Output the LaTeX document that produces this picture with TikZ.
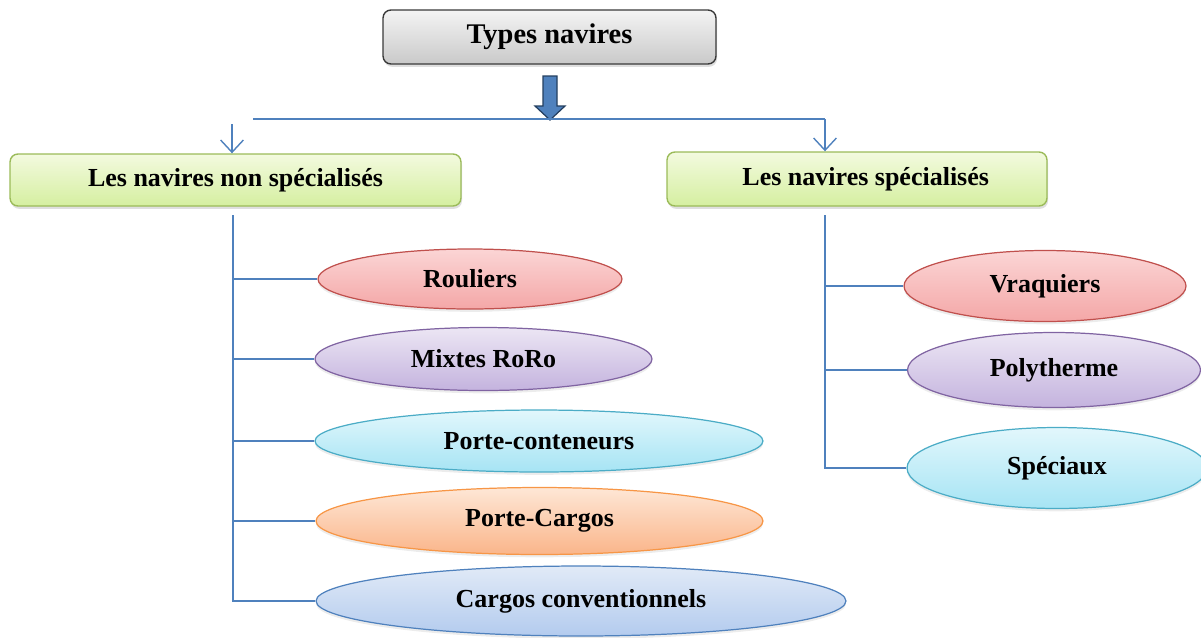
\documentclass[tikz,border=0pt]{standalone}
\usepackage{fontspec}
\setmainfont{Liberation Serif}
\usetikzlibrary{shapes.geometric,arrows.meta,shadows}
\definecolor{lnblue}{HTML}{4F81BD}
\definecolor{arrdark}{HTML}{243F60}
\definecolor{redB}{HTML}{C0504D}\definecolor{redT}{HTML}{FBD5D5}\definecolor{redD}{HTML}{F4A7A7}
\definecolor{purB}{HTML}{8064A2}\definecolor{purT}{HTML}{ECE6F4}\definecolor{purD}{HTML}{C4B3DE}
\definecolor{cyaB}{HTML}{4BACC6}\definecolor{cyaT}{HTML}{E2F7FC}\definecolor{cyaD}{HTML}{A6E4F4}
\definecolor{oraB}{HTML}{F79646}\definecolor{oraT}{HTML}{FEE7D6}\definecolor{oraD}{HTML}{FAB58A}
\definecolor{bluB}{HTML}{4F81BD}\definecolor{bluT}{HTML}{E1EAF7}\definecolor{bluD}{HTML}{B3CBEE}
\definecolor{grnB}{HTML}{9BBB59}\definecolor{grnT}{HTML}{F3FADF}\definecolor{grnD}{HTML}{D5EFA0}
\definecolor{gryB}{HTML}{3A3A3A}\definecolor{gryT}{HTML}{F4F4F4}\definecolor{gryD}{HTML}{C9C9C9}
\begin{document}
\begin{tikzpicture}[x=0.02cm,y=-0.02cm,
  lbl/.style={font=\fontsize{14.8}{17}\selectfont\bfseries},
  rbox/.style={lbl,rectangle,rounded corners=4.5pt,line width=0.8pt,inner sep=0pt,
    drop shadow={opacity=0.25,shadow xshift=0.6pt,shadow yshift=-1.6pt}},
  ell/.style={lbl,ellipse,inner sep=0pt,line width=0.7pt,
    drop shadow={opacity=0.15,shadow xshift=0pt,shadow yshift=-1.6pt}},
  conn/.style={draw=lnblue,line width=0.8pt},
  openarr/.style={conn,-{Straight Barb[length=7pt,width=13pt,line width=0.8pt]}}
]
\useasboundingbox (0,0) rectangle (1201,637);
% top box
\node[rbox,draw=gryB,top color=gryT,bottom color=gryD,minimum width=6.66cm,minimum height=1.08cm,
  font=\fontsize{16.2}{19}\selectfont\bfseries] (top) at (549.5,37) {Types navires};
% block arrow
\draw[fill=lnblue,draw=arrdark,line width=0.7pt]
  (543,76) -- (557,76) -- (557,106) -- (565,106) -- (550,120) -- (535,106) -- (543,106) -- cycle;
% level 2 boxes
\node[rbox,draw=grnB,top color=grnT,bottom color=grnD,minimum width=9.02cm,minimum height=1.04cm] (L) at (235.5,180) {Les navires non spécialisés};
\node[rbox,draw=grnB,top color=grnT,bottom color=grnD,minimum width=7.6cm,minimum height=1.08cm] (R) at (857,179) {\hspace*{0.35cm}Les navires spécialisés};
% splitting connectors
\coordinate (hl) at (253,119);
\coordinate (hr) at (825,119);
\coordinate (la) at (232,124);
\draw[conn] (hl) -- (hr);
\draw[openarr] (hr) -- (R.north -| hr);
\draw[openarr] (la) -- (L.north -| la);
% ellipses left
\node[ell,draw=redB,top color=redT,bottom color=redD,minimum width=6.08cm,minimum height=1.2cm] (e1) at (470,279) {Rouliers};
\node[ell,draw=purB,top color=purT,bottom color=purD,minimum width=6.74cm,minimum height=1.26cm] (e2) at (483.5,359) {Mixtes RoRo};
\node[ell,draw=cyaB,top color=cyaT,bottom color=cyaD,minimum width=8.96cm,minimum height=1.24cm] (e3) at (539,441) {Porte-conteneurs};
\node[ell,draw=oraB,top color=oraT,bottom color=oraD,minimum width=8.94cm,minimum height=1.34cm] (e4) at (539.5,521) {Porte-Cargos};
\node[ell,draw=bluB,top color=bluT,bottom color=bluD,minimum width=10.6cm,minimum height=1.4cm] (e5) at (581,601) {Cargos conventionnels};
% ellipses right
\node[ell,draw=redB,top color=redT,bottom color=redD,minimum width=5.64cm,minimum height=1.42cm] (r1) at (1045,286) {Vraquiers};
\node[ell,draw=purB,top color=purT,bottom color=purD,minimum width=5.86cm,minimum height=1.5cm] (r2) at (1054,370) {Polytherme};
\node[ell,draw=cyaB,top color=cyaT,bottom color=cyaD,minimum width=6.0cm,minimum height=1.62cm] (r3) at (1057,468) {Spéciaux};
% tree connectors left
\coordinate (lv) at (233,215);
\draw[conn] (lv) |- (e5.west);
\foreach \e in {e1,e2,e3,e4} \draw[conn] (lv |- \e.west) -- (\e.west);
% tree connectors right
\coordinate (rv) at (825,215);
\draw[conn] (rv) |- (r3.west);
\foreach \e in {r1,r2} \draw[conn] (rv |- \e.west) -- (\e.west);
\end{tikzpicture}
\end{document}
